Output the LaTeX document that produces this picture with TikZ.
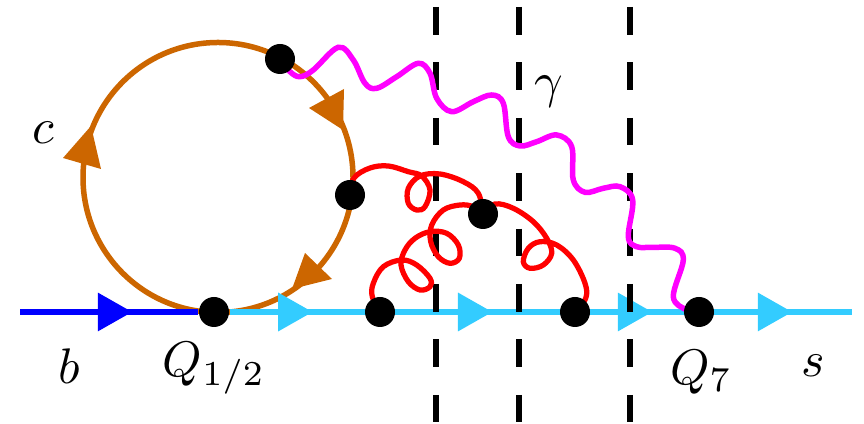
\documentclass[tikz,border=0pt]{standalone}
\usepackage{xcolor}
\usepackage{tikz}
\usetikzlibrary{arrows.meta,backgrounds,decorations.markings}
\definecolor{charmOrange}{HTML}{CC6600}
\definecolor{strangeCyan}{HTML}{33CCFF}
\definecolor{bottomBlue}{HTML}{0000FF}
\definecolor{photonMagenta}{HTML}{FF00FF}
\definecolor{gluonRed}{HTML}{FF0000}
\tikzset{
  vertexdot/.style={circle, fill=black, inner sep=0pt, minimum size=6pt},
  cutline/.style={black, line width=1.05pt, dash pattern=on 5.52pt off 5.56pt},
  gluonline/.style={gluonRed, line width=1.05pt},
  photonline/.style={photonMagenta, line width=1.1pt},
  quarkline/.style={line width=1.3pt}
}

\begin{document}
\begin{tikzpicture}[x=0.2pt, y=0.2pt]
  \useasboundingbox (0,0) rectangle (864,424);

  \node[vertexdot] (vOneHalf) at (214,112) {};
  \node[vertexdot] (vGluonA) at (380,112) {};
  \node[vertexdot] (vGluonB) at (575,112) {};
  \node[vertexdot] (vSeven) at (699,112) {};
  \node[vertexdot] (vGluonTop) at (483,210) {};
  \node[vertexdot] (vCharm) at (350,229) {};
  \node[vertexdot] (vPhoton) at (280,365) {};

  \coordinate (bStart) at (20,112);
  \coordinate (sEnd) at (852,112);
  \coordinate (cutTopA) at (436,417);
  \coordinate (cutBotA) at (436,2);
  \coordinate (cutTopB) at (519,417);
  \coordinate (cutBotB) at (519,2);
  \coordinate (cutTopC) at (630,417);
  \coordinate (cutBotC) at (630,2);

  \begin{scope}[on background layer]
    \draw[charmOrange, line width=1.1pt] (218,246.5) circle[radius=135];
    \fill[charmOrange] (63,266) -- (101,255) -- (91,298) -- cycle;
    \fill[charmOrange] (309,316) -- (344,335) -- (343,294) -- cycle;
    \fill[charmOrange] (305,171) -- (332,145) -- (292,135) -- cycle;

    \draw[bottomBlue, quarkline, postaction={decorate}, decoration={markings,
            mark=at position 0.631 with {\arrow{Triangle[length=6.9pt,width=7.4pt]}}}]
      (bStart) -- (vOneHalf);
    \draw[strangeCyan, quarkline, postaction={decorate}, decoration={markings,
            mark=at position 0.133 with {\arrow{Triangle[length=6.9pt,width=7.4pt]}},
            mark=at position 0.422 with {\arrow{Triangle[length=6.9pt,width=7.4pt]}},
            mark=at position 0.679 with {\arrow{Triangle[length=6.9pt,width=7.4pt]}},
            mark=at position 0.904 with {\arrow{Triangle[length=6.9pt,width=7.4pt]}}}]
      (vOneHalf) -- (sEnd);

    \draw[cutline] (cutTopA) -- (cutBotA);
    \draw[cutline] (cutTopB) -- (cutBotB);
    \draw[cutline] (cutTopC) -- (cutBotC);

    \draw[gluonline] plot[smooth, tension=0.6] coordinates {(vCharm) (354,246) (370,256) (388.3,258)
      (408.3,252.3) (421.7,248) (430,234) (425,217.3) (416.7,214) (408.3,220.7) (408.3,235.7)
      (420,248) (440,250) (463.3,242.3) (478.3,230.7) (vGluonTop)};
    \draw[gluonline] plot[smooth, tension=0.6] coordinates {(vGluonA) (372.3,127.3) (373.3,140.7)
      (383.3,157.3) (401.7,164) (416.7,159) (430,145.7) (430,137.3) (420,134) (408.3,142.3)
      (401,159) (405,174) (415,185.7) (430,192.3) (446.7,190.7) (458.3,179) (459.3,165.7)
      (450,160.7) (438.3,167.3) (430.7,182.3) (431.7,199) (443.3,214) (460,219) (473.3,217.3)
      (vGluonTop)};
    \draw[gluonline] plot[smooth, tension=0.6] coordinates {(vGluonTop) (495,220) (513.3,215.7)
      (533.3,202.3) (546.7,185.7) (551.7,170.7) (543.3,159) (530,155.7) (523.3,162.3)
      (528.3,175.7) (540,182.3) (556.7,179) (573.3,164) (585,140.7) (585.7,125.7) (vGluonB)};

    \draw[photonline] plot[smooth, tension=0.6] coordinates {(vPhoton) (290,352.3) (300,347.3)
      (313.3,354) (338.3,376.7) (353.3,364) (365,340.7) (376.7,335.7) (396.7,347.3)
      (418.3,360.7) (430,350.7) (436.7,325.7) (451.7,312.3) (473.3,322.3) (491.7,329)
      (503.3,320.7) (508.3,287.3) (520,278) (536.7,282.3) (556.7,289) (571.7,277.3)
      (573.3,244) (585,231.7) (603.3,235.7) (620,237.3) (632.7,224) (628.3,187.3)
      (636.7,177.3) (653.3,176.7) (675,175.7) (683.3,164) (673.3,127.3) (686.7,114) (vSeven)};
  \end{scope}

  \node (labelC) at (43,291) {$c$};
  \node (labelGamma) at (549,332) {$\gamma$};
  \node (labelB) at (69,58) {$b$};
  \node (labelOneHalf) at (214,56) {$Q_{1/2}$};
  \node (labelSeven) at (701,52) {$Q_7$};
  \node (labelS) at (813,58) {$s$};
\end{tikzpicture}
\end{document}
